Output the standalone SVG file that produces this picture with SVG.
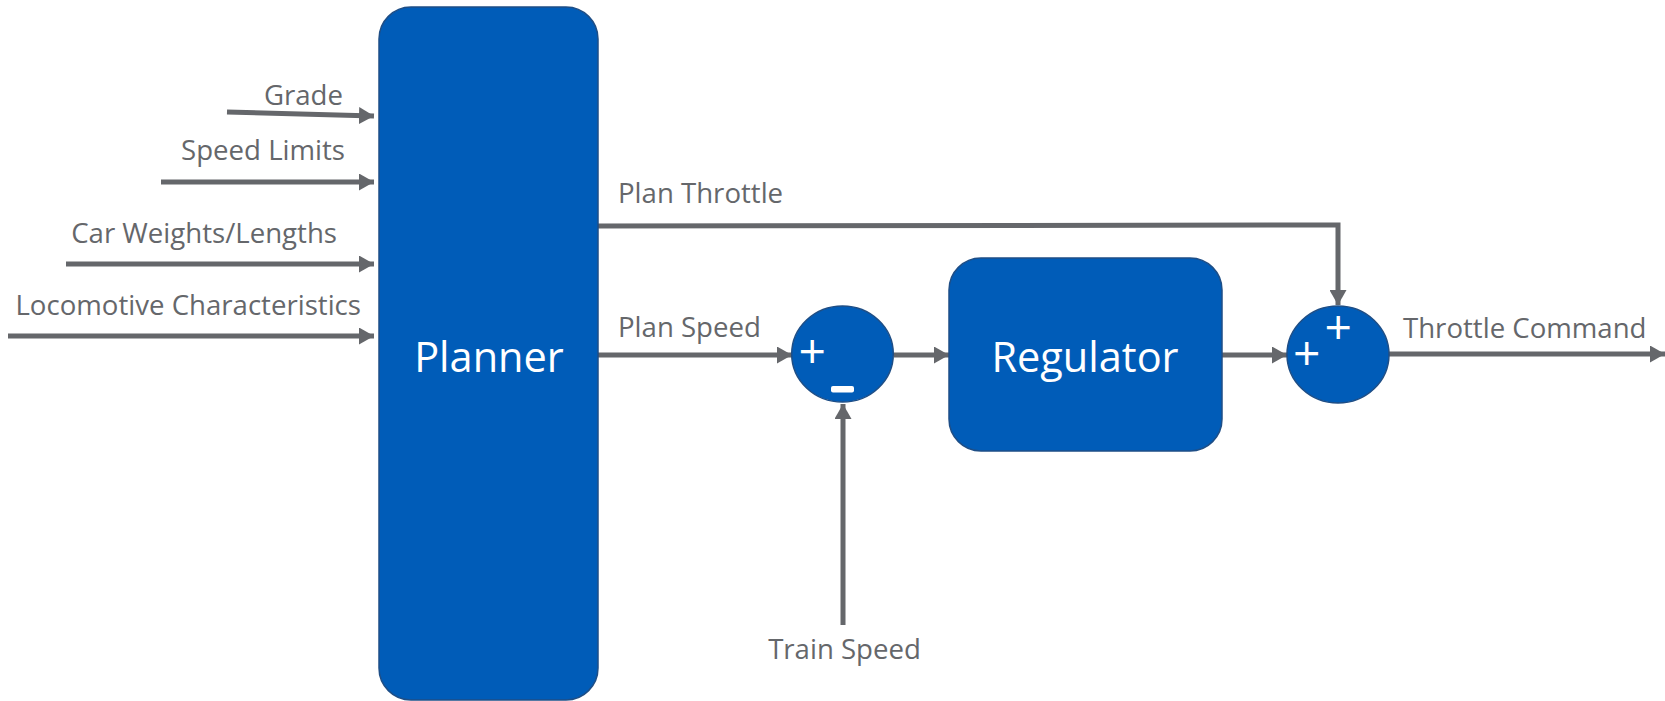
<svg xmlns="http://www.w3.org/2000/svg" width="1665" height="701" viewBox="0 0 1665 701">
<defs>
<marker id="ah" viewBox="0 0 15 17" refX="15" refY="8.5" markerWidth="15" markerHeight="17" markerUnits="userSpaceOnUse" orient="auto">
<path d="M0,0 L15,8.5 L0,17 Z" fill="#65676B"/>
</marker>
<style>
.blk{fill:#005CB8;stroke:#1E4E86;stroke-width:1.5}
.lbl{font-family:"Open Sans","Liberation Sans",sans-serif;font-size:27.6px;fill:#65676B}
.big{font-family:"Open Sans","Liberation Sans",sans-serif;font-size:41.5px;fill:#FFFFFF}
.sgn{font-family:"Open Sans","Liberation Sans",sans-serif;font-size:48px;fill:#FFFFFF}
.ln{fill:none;stroke:#65676B;stroke-width:5}
.arr{fill:none;stroke:#65676B;stroke-width:5;marker-end:url(#ah)}
</style>
</defs>
<rect width="1665" height="701" fill="#FFFFFF"/>
<g id="connectors">
<line class="arr" x1="227" y1="112" x2="374" y2="116"/>
<line class="arr" x1="161" y1="182" x2="374" y2="182"/>
<line class="arr" x1="66" y1="264" x2="374" y2="264"/>
<line class="arr" x1="8" y1="336" x2="374" y2="336"/>
<polyline class="arr" points="598,226 1338,225 1338,305"/>
<line class="arr" x1="598" y1="355" x2="792" y2="355"/>
<line class="arr" x1="894" y1="355" x2="949" y2="355"/>
<line class="arr" x1="843" y1="625" x2="843" y2="404"/>
<line class="arr" x1="1222" y1="355" x2="1287" y2="355"/>
<line class="arr" x1="1389" y1="354" x2="1665" y2="354"/>
</g>
<g id="labels">
<text class="lbl" x="343" y="105" text-anchor="end">Grade</text>
<text class="lbl" x="345" y="160" text-anchor="end">Speed Limits</text>
<text class="lbl" x="337" y="243" text-anchor="end">Car Weights/Lengths</text>
<text class="lbl" x="361" y="315" text-anchor="end">Locomotive Characteristics</text>
<text class="lbl" x="618" y="203">Plan Throttle</text>
<text class="lbl" x="618" y="337">Plan Speed</text>
<text class="lbl" x="1403" y="338">Throttle Command</text>
<text class="lbl" x="844.5" y="659" text-anchor="middle">Train Speed</text>
</g>
<g id="planner">
<rect class="blk" x="379" y="7" width="219" height="693" rx="32" ry="32"/>
<text class="big" x="489" y="372" text-anchor="middle">Planner</text>
</g>
<g id="sum1">
<ellipse class="blk" cx="842.5" cy="354" rx="50.8" ry="48"/>
<text class="sgn" x="812.3" y="368" text-anchor="middle">+</text>
<rect x="831" y="386" width="23" height="6.5" rx="2" fill="#FFFFFF"/>
</g>
<g id="regulator">
<rect class="blk" x="949" y="258" width="273" height="193" rx="32" ry="32"/>
<text class="big" x="1085" y="372" text-anchor="middle">Regulator</text>
</g>
<g id="sum2">
<ellipse class="blk" cx="1338" cy="354.5" rx="51" ry="48.5"/>
<text class="sgn" x="1306.7" y="370" text-anchor="middle">+</text>
<text class="sgn" x="1338.3" y="344" text-anchor="middle">+</text>
</g>
</svg>
